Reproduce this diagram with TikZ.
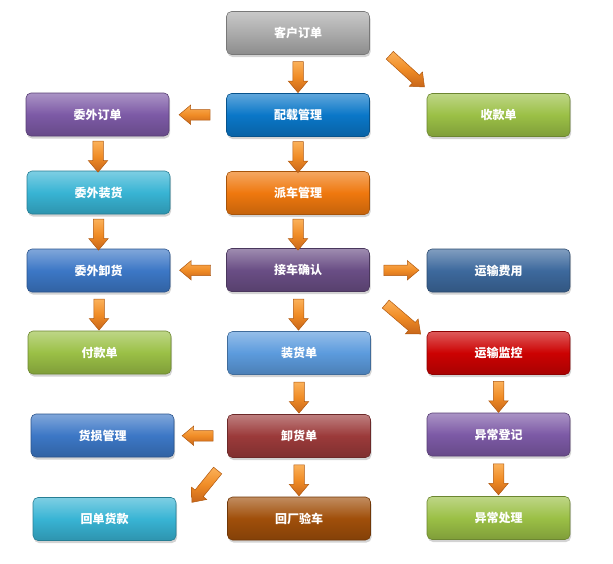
\documentclass[tikz,border=0pt]{standalone}
\usepackage{fontspec}
\newfontfamily\cjk{Noto Sans CJK SC}
\usetikzlibrary{shapes.arrows,shadows,calc}
\definecolor{cGray}{HTML}{ABABAB}
\definecolor{cBlue}{HTML}{0A77C8}
\definecolor{cOrange}{HTML}{EF780E}
\definecolor{cPurpleD}{HTML}{6A4E85}
\definecolor{cLightBlue}{HTML}{5C9BDD}
\definecolor{cDarkRed}{HTML}{9B3A3A}
\definecolor{cBrown}{HTML}{A04F0A}
\definecolor{cPurple}{HTML}{7D5AA6}
\definecolor{cCyan}{HTML}{38B4D4}
\definecolor{cMidBlue}{HTML}{3C77C6}
\definecolor{cGreen}{HTML}{9BC046}
\definecolor{cSteel}{HTML}{3D699D}
\definecolor{cRed}{HTML}{CC0202}
\definecolor{aLight}{HTML}{FBB15A}
\definecolor{aMid}{HTML}{F08C26}
\definecolor{aDark}{HTML}{C8661A}
\definecolor{aEdge}{HTML}{B0580F}
\tikzset{
  x=1pt, y=-1pt,
  box/.style={rectangle, rounded corners=5pt, minimum width=143pt, minimum height=43pt,
    inner sep=0pt, text=white, font=\cjk\bfseries\fontsize{12}{14}\selectfont,
    draw=#1!70!black, line width=0.6pt,
    top color=#1!65!white, bottom color=#1!82!black, middle color=#1,
    drop shadow={opacity=0.35, shadow xshift=1pt, shadow yshift=-2.5pt}},
  barrow/.style={single arrow, single arrow head extend=4.5pt, single arrow tip angle=80,
    minimum height=#1, inner xsep=0pt, inner ysep=5pt,
    draw=aEdge, line width=0.5pt,
    top color=aLight, bottom color=aDark, middle color=aMid},
  barrow/.default=31pt
}
\begin{document}
\begin{tikzpicture}
\useasboundingbox (0,0) rectangle (613,563);
% centre column
\node[box=cGray]      (kh) at (298,33)    {客户订单};
\node[box=cBlue]      (pz) at (298,115)   {配载管理};
\node[box=cOrange]    (pc) at (298,193)   {派车管理};
\node[box=cPurpleD]   (jc) at (298,270)   {接车确认};
\node[box=cLightBlue] (zh) at (299,353)   {装货单};
\node[box=cDarkRed]   (xh) at (299,436)   {卸货单};
\node[box=cBrown]     (hc) at (299,518.5) {回厂验车};
% left column
\node[box=cPurple]    (wd) at (97.5,114.5) {委外订单};
\node[box=cCyan]      (wz) at (98.5,192.5) {委外装货};
\node[box=cMidBlue]   (wx) at (98.5,270.5) {委外卸货};
\node[box=cGreen]     (fk) at (99.5,352.5) {付款单};
\node[box=cMidBlue]   (hs) at (102.5,435.5) {货损管理};
\node[box=cCyan]      (hd) at (104.5,519)   {回单货款};
% right column
\node[box=cGreen]     (sk) at (498.5,115)   {收款单};
\node[box=cSteel]     (ys) at (498.5,270.5) {运输费用};
\node[box=cRed]       (jk) at (498.5,353)   {运输监控};
\node[box=cPurple]    (yd) at (498.5,434.5) {异常登记};
\node[box=cGreen]     (yc) at (498.5,518)   {异常处理};
% block arrows
\node[barrow, rotate=-90] (a1) at ($(kh.south)!0.5!(pz.north)$) {};
\node[barrow=47pt, rotate=-42.4] (a2) at ($(kh.east)+(35,36)$) {};
\node[barrow, rotate=180] (a3) at ($(pz.west)!0.5!(wd.east)$) {};
\node[barrow, rotate=-90] (a4) at ($(pz.south)!0.5!(pc.north)$) {};
\node[barrow, rotate=-90] (a5) at ($(pc.south)!0.5!(jc.north)$) {};
\node[barrow, rotate=-90] (a6) at ($(wd.south)!0.5!(wz.north)$) {};
\node[barrow, rotate=-90] (a7) at ($(wz.south)!0.5!(wx.north)$) {};
\node[barrow, rotate=-90] (a8) at ($(wx.south)!0.5!(fk.north)$) {};
\node[barrow, rotate=180] (a9) at ($(jc.west)!0.5!(wx.east)$) {};
\node[barrow=35pt] (a10) at ($(jc.east)!0.5!(ys.west)$) {};
\node[barrow=46pt, rotate=-40.6] (a11) at ($(jc.east)+(31,47)$) {};
\node[barrow, rotate=-90] (a12) at ($(jc.south)!0.5!(zh.north)$) {};
\node[barrow, rotate=-90] (a13) at ($(zh.south)!0.5!(xh.north)$) {};
\node[barrow, rotate=180] (a14) at ($(xh.west)!0.5!(hs.east)$) {};
\node[barrow=41pt, rotate=-129] (a15) at ($(xh.west)+(-20.5,48)$) {};
\node[barrow, rotate=-90] (a16) at ($(xh.south)!0.5!(hc.north)$) {};
\node[barrow, rotate=-90] (a17) at ($(jk.south)!0.5!(yd.north)$) {};
\node[barrow, rotate=-90] (a18) at ($(yd.south)!0.5!(yc.north)$) {};
\end{tikzpicture}
\end{document}
